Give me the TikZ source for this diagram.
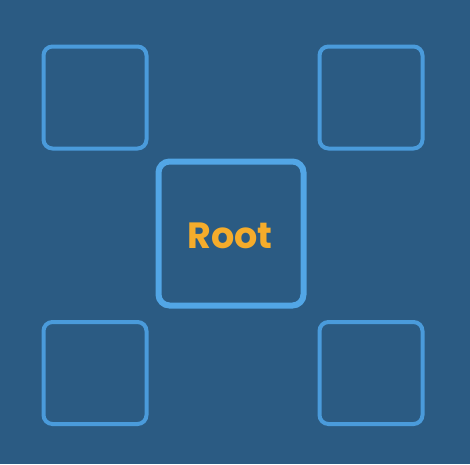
\documentclass[tikz,border=0pt]{standalone}
\usepackage{fontspec}
\setmainfont{Poppins}
\definecolor{bg}{HTML}{2B5B83}
\definecolor{edge}{HTML}{4A9BDB}
\definecolor{rootedge}{HTML}{52A6E6}
\definecolor{roottext}{HTML}{F5AC2B}
\begin{document}
\begin{tikzpicture}[x=1pt,y=-1pt,
  leaf/.style={draw=edge,line width=4pt,rounded corners=9pt,minimum width=103pt,minimum height=102pt,inner sep=0pt},
  rootbox/.style={draw=rootedge,line width=6pt,rounded corners=11pt,minimum width=145pt,minimum height=144pt,inner sep=0pt,font=\fontsize{36.5}{42}\selectfont\bfseries,text=roottext}]
\fill[bg] (0,0) rectangle (470,464);
\useasboundingbox (0,0) rectangle (470,464);
\node[rootbox] (root) at (231,233.5) {};
\node[font=\fontsize{36.5}{42}\selectfont\bfseries,text=roottext] (label) at (230,236) {Root};
\node[leaf] (tl) at (95,97.5) {};
\node[leaf] (tr) at (371,97.5) {};
\node[leaf] (bl) at (95,373) {};
\node[leaf] (br) at (371,373) {};
\end{tikzpicture}
\end{document}
